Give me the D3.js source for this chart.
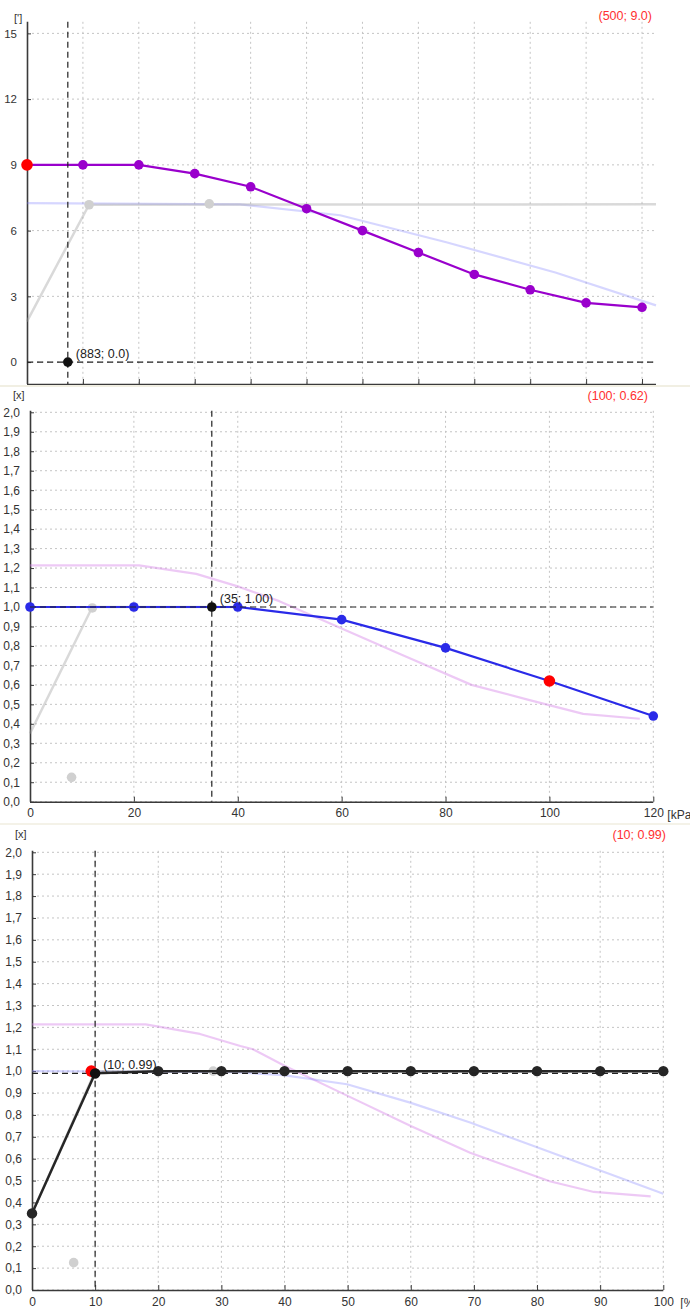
<!DOCTYPE html>
<html>
<head>
<meta charset="utf-8">
<script src="https://cdn.jsdelivr.net/npm/d3@7"></script>
<style>
body{margin:0;background:#fff}
svg{display:block;font-family:"Liberation Sans",Arial,sans-serif}
</style>
</head>
<body>
<svg id="chart" width="690" height="1309"></svg>
<script>
// ---- panel 1 : angle ['] ----
const p1MainX = [0,1,2,3,4,5,6,7,8,9,10,11];
const p1MainY = [9.0,9.0,9.0,8.6,8.0,7.0,6.0,5.0,4.0,3.3,2.7,2.5];
const p1GrayX = [0,1.11,11.25];
const p1GrayY = [1.86,7.18,7.2];
const p1GrayDotsX = [1.11,3.26];
const p1GrayDotsY = [7.18,7.22];
const p1LavX = [0,3.81,5.6,7.5,9.45,11.25];
const p1LavY = [7.25,7.2,6.7,5.47,4.09,2.59];
const p1YTicks = [0,3,6,9,12,15];
const p1XTicks = [1,2,3,4,5,6,7,8,9,10,11];
const p1Cursor = [0.73,0.0];
const p1Current = [0,9.0];
const p1CursorText = "(883; 0.0)";
const p1CurrentText = "(500; 9.0)";

// ---- panel 2 : factor [x] vs kPa ----
const p2MainX = [0,20,40,60,80,100,120];
const p2MainY = [1.0,1.0,1.0,0.935,0.79,0.62,0.44];
const p2GrayX = [0,12,40];
const p2GrayY = [0.35,1.0,1.0];
const p2GrayDotsX = [12,8];
const p2GrayDotsY = [0.995,0.125];
const p2PinkX = [0,21,32,40,48,60,72,85,96,106.5,117.4];
const p2PinkY = [1.214,1.214,1.17,1.106,1.03,0.89,0.75,0.60,0.523,0.451,0.426];
const p2XTicks = [0,20,40,60,80,100,120];
const p2Cursor = [35,1.0];
const p2Current = [100,0.62];
const p2CursorText = "(35; 1.00)";
const p2CurrentText = "(100; 0.62)";

// ---- panel 3 : factor [x] vs % ----
const p3MainX = [0,10,20,30,40,50,60,70,80,90,100];
const p3MainY = [0.35,0.99,1.0,1.0,1.0,1.0,1.0,1.0,1.0,1.0,1.0];
const p3GrayX = [0,10,100];
const p3GrayY = [0.35,1.0,1.0];
const p3GrayDotsX = [6.6,28.7];
const p3GrayDotsY = [0.125,1.0];
const p3LavX = [0,31.4,39.8,49.9,59.9,69.4,80,90,100];
const p3LavY = [1.0,0.996,0.982,0.94,0.856,0.765,0.652,0.546,0.44];
const p3PinkX = [0,18,26.6,33,35,40,50,60,69.4,82,89,98];
const p3PinkY = [1.214,1.214,1.17,1.115,1.10,1.025,0.887,0.749,0.627,0.497,0.448,0.428];
const p3XTicks = [0,10,20,30,40,50,60,70,80,90,100];
const p3Cursor = [10,0.99];
const p3Current = [9.4,1.0];
const p3CursorText = "(10; 0.99)";
const p3CurrentText = "(10; 0.99)";

const xYTicks = [0,0.1,0.2,0.3,0.4,0.5,0.6,0.7,0.8,0.9,1.0,1.1,1.2,1.3,1.4,1.5,1.6,1.7,1.8,1.9,2.0];

const zip = (a,b)=>a.map((v,i)=>[v,b[i]]);
const SVG = d3.select("#chart");

function Panel(cfg){
    const X = d3.scaleLinear().domain(cfg.xDomain).range(cfg.xRange);
    const Y = d3.scaleLinear().domain(cfg.yDomain).range(cfg.yRange);
    const g = SVG.append("g");
    const left = cfg.xRange[0], right = cfg.xRange[1];
    const bottom = cfg.yRange[0], top = cfg.yRange[1];

    // dotted grid
    g.append("g").selectAll("line").data(cfg.yTicks)
      .join("line")
        .attr("x1",left).attr("x2",right)
        .attr("y1",d=>Y(d)).attr("y2",d=>Y(d))
        .attr("stroke","#c4c4c4").attr("stroke-dasharray","2,3");
    g.append("g").selectAll("line").data(cfg.xTicks.filter(d=>d!==cfg.xDomain[0]))
      .join("line")
        .attr("x1",d=>X(d)).attr("x2",d=>X(d))
        .attr("y1",top-1.5).attr("y2",bottom)
        .attr("stroke","#c4c4c4").attr("stroke-dasharray","2,3");

    // axes (inner ticks)
    const ya = g.append("g").attr("transform",`translate(${left},0)`)
      .call(d3.axisLeft(Y).tickValues(cfg.yTicks).tickSizeInner(-4).tickSizeOuter(0)
        .tickPadding(10).tickFormat(cfg.yFormat));
    ya.select(".domain").attr("stroke","#3a3a3a").attr("stroke-width",1.6)
      .attr("d",`M0.5,${bottom}V${top-1.5}`);
    ya.selectAll(".tick line").attr("stroke","#3a3a3a");
    ya.selectAll("text").style("font-size",cfg.tickFont||"12px").attr("fill","#333");

    const xa = g.append("g").attr("transform",`translate(0,${bottom})`)
      .call(d3.axisBottom(X).tickValues(cfg.xTicks).tickSizeInner(-5).tickSizeOuter(0)
        .tickPadding(7).tickFormat(cfg.xLabels ? d3.format("d") : ""));
    xa.select(".domain").attr("stroke","#3a3a3a").attr("stroke-width",1.6)
      .attr("d",`M${left},0.5H${right}`);
    xa.selectAll(".tick line").attr("stroke","#3a3a3a");
    xa.selectAll("text").style("font-size","12px").attr("fill","#333");

    // unit labels
    g.append("text").attr("x",cfg.unitX).attr("y",cfg.unitY)
      .style("font-size","11px").attr("fill","#333").text(cfg.unit);
    if(cfg.xUnit){
      g.append("text").attr("x",right+cfg.xUnitGap).attr("y",bottom+17)
        .style("font-size","12px").attr("fill","#333").text(cfg.xUnit);
    }

    const line = d3.line().x(d=>X(d[0])).y(d=>Y(d[1]));
    (cfg.faint||[]).forEach(s=>{
      g.append("path").attr("d",line(s.pts)).attr("fill","none")
        .attr("stroke",s.color).attr("stroke-width",s.w||2.2).attr("stroke-linejoin","round");
    });
    if(cfg.grayDots){
      g.append("g").selectAll("circle").data(cfg.grayDots).join("circle")
        .attr("cx",d=>X(d[0])).attr("cy",d=>Y(d[1])).attr("r",4.8).attr("fill","#d0d0d0");
    }

    // main series
    g.append("path").attr("d",line(cfg.main)).attr("fill","none")
      .attr("stroke",cfg.color).attr("stroke-width",cfg.mainW||2.2);
    g.append("g").selectAll("circle").data(cfg.main).join("circle")
      .attr("cx",d=>X(d[0])).attr("cy",d=>Y(d[1])).attr("r",cfg.dotR||4.8).attr("fill",cfg.color);

    // cursor cross
    const c = cfg.cursor;
    g.append("line").attr("x1",X(c[0])).attr("x2",X(c[0])).attr("y1",top-1.5).attr("y2",bottom)
      .attr("stroke","#222").attr("stroke-width",1.2).attr("stroke-dasharray","6,4");
    g.append("line").attr("x1",left).attr("x2",right).attr("y1",Y(c[1])).attr("y2",Y(c[1]))
      .attr("stroke","#222").attr("stroke-width",1.2).attr("stroke-dasharray","6,4");

    // current value (red) and cursor point
    g.append("circle").attr("cx",X(cfg.current[0])).attr("cy",Y(cfg.current[1])).attr("r",5.8).attr("fill","#ff0000");
    g.append("circle").attr("cx",X(c[0])).attr("cy",Y(c[1])).attr("r",cfg.cursorR||4.8).attr("fill","#111");

    g.append("text").attr("x",X(c[0])+8).attr("y",Y(c[1])-4)
      .style("font-size","12.5px").attr("fill","#222").text(cfg.cursorText);
    g.append("text").attr("x",cfg.redX).attr("y",cfg.redY).attr("text-anchor","end")
      .style("font-size","12.5px").attr("fill","#ff3030").text(cfg.currentText);
}

const commaFmt = d=>d3.format(".1f")(d).replace(".",",");

Panel({
  xDomain:[0,11.25], xRange:[27,656], yDomain:[-1,15.46], yRange:[384,23.3],
  yTicks:p1YTicks, xTicks:p1XTicks, yFormat:d3.format("d"), xLabels:false, tickFont:"11.5px",
  unit:"[']", unitX:14, unitY:22,
  faint:[{pts:zip(p1LavX,p1LavY),color:"rgba(120,120,255,0.3)"},
         {pts:zip(p1GrayX,p1GrayY),color:"rgba(160,160,160,0.4)",w:2.5}],
  grayDots:zip(p1GrayDotsX,p1GrayDotsY),
  main:zip(p1MainX,p1MainY), color:"#9900cc",
  cursor:p1Cursor, current:p1Current, cursorText:p1CursorText, currentText:p1CurrentText,
  redX:652, redY:20
});

Panel({
  xDomain:[0,120], xRange:[30,653.3], yDomain:[0,2.0], yRange:[801.7,412.3],
  yTicks:xYTicks, xTicks:p2XTicks, yFormat:commaFmt, xLabels:true, xUnit:"[kPa", xUnitGap:14,
  unit:"[x]", unitX:13, unitY:399,
  faint:[{pts:zip(p2PinkX,p2PinkY),color:"rgba(210,120,230,0.4)"},
         {pts:zip(p2GrayX,p2GrayY),color:"rgba(160,160,160,0.4)",w:2.5}],
  grayDots:zip(p2GrayDotsX,p2GrayDotsY),
  main:zip(p2MainX,p2MainY), color:"#2a2ae8",
  cursor:p2Cursor, current:p2Current, cursorText:p2CursorText, currentText:p2CurrentText,
  redX:648, redY:400
});

Panel({
  xDomain:[0,100], xRange:[32,663.3], yDomain:[0,2.0], yRange:[1290,852.3],
  yTicks:xYTicks, xTicks:p3XTicks, yFormat:commaFmt, xLabels:true, xUnit:"[%", xUnitGap:17,
  unit:"[x]", unitX:15, unitY:838,
  faint:[{pts:zip(p3PinkX,p3PinkY),color:"rgba(210,120,230,0.4)"},
         {pts:zip(p3LavX,p3LavY),color:"rgba(120,120,255,0.3)"},
         {pts:zip(p3GrayX,p3GrayY),color:"rgba(160,160,160,0.4)",w:2.5}],
  grayDots:zip(p3GrayDotsX,p3GrayDotsY),
  main:zip(p3MainX,p3MainY), color:"#262626", mainW:2.5, dotR:5.2,
  cursor:p3Cursor, current:p3Current, cursorText:p3CursorText, currentText:p3CurrentText,
  redX:666, redY:839, cursorR:5.2
});

// panel separators
SVG.append("rect").attr("x",0).attr("y",385).attr("width",690).attr("height",2).attr("fill","#f1efe3");
SVG.append("rect").attr("x",0).attr("y",823).attr("width",690).attr("height",2).attr("fill","#f4f2e8");
</script>
</body>
</html>
